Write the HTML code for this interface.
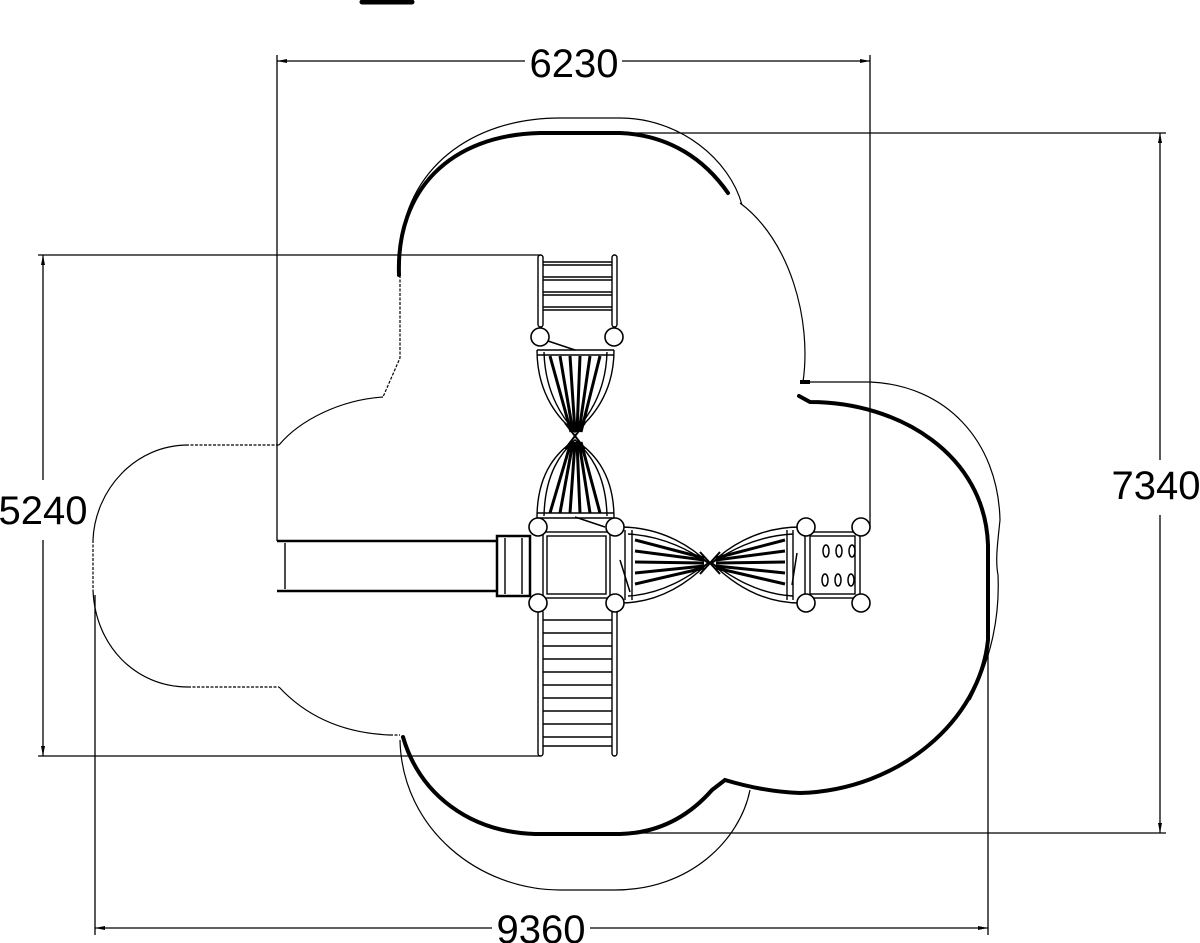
<!DOCTYPE html>
<html><head><meta charset="utf-8"><style>
html,body{margin:0;padding:0;background:#fff;}
svg{display:block}
text{font-family:"Liberation Sans",sans-serif;font-size:40px;fill:#000}
</style></head><body>
<svg width="1200" height="943" viewBox="0 0 1200 943" xmlns="http://www.w3.org/2000/svg">
<rect width="1200" height="943" fill="#fff"/>
<line x1="362" y1="2" x2="412" y2="2" stroke="#000" stroke-width="5" stroke-linecap="round"/>
<g stroke="#000" stroke-width="1.3" fill="none">
<line x1="277" y1="55" x2="277" y2="541"/>
<line x1="870" y1="55" x2="870" y2="527"/>
<line x1="277" y1="61" x2="525" y2="61"/>
<line x1="622" y1="61" x2="870" y2="61"/>
<line x1="38" y1="255" x2="540" y2="255"/>
<line x1="38" y1="756" x2="540" y2="756"/>
<line x1="43" y1="255" x2="43" y2="480"/>
<line x1="43" y1="540" x2="43" y2="756"/>
<line x1="625" y1="133" x2="1166" y2="133"/>
<line x1="625" y1="833" x2="1166" y2="833"/>
<line x1="1160" y1="133" x2="1160" y2="460"/>
<line x1="1160" y1="515" x2="1160" y2="833"/>
<line x1="95" y1="595" x2="95" y2="935"/>
<line x1="988" y1="640" x2="988" y2="935"/>
<line x1="95" y1="928" x2="492" y2="928"/>
<line x1="590" y1="928" x2="988" y2="928"/>
</g>
<g fill="#000">
<path d="M277,61 l10,-2 v4z"/><path d="M870,61 l-10,-2 v4z"/>
<path d="M43,255 l-2,10 h4z"/><path d="M43,756 l-2,-10 h4z"/>
<path d="M1160,133 l-2,10 h4z"/><path d="M1160,833 l-2,-10 h4z"/>
<path d="M95,928 l10,-2 v4z"/><path d="M988,928 l-10,-2 v4z"/>
</g>
<text x="574" y="77" text-anchor="middle">6230</text>
<text x="43" y="524" text-anchor="middle">5240</text>
<text x="1156" y="499" text-anchor="middle">7340</text>
<text x="541" y="943" text-anchor="middle">9360</text>

<g stroke="#000" stroke-width="1.2" fill="none">
<path d="M400,250 C405,170 470,118 560,118 L620,118 C680,118 730,160 742,205"/>
<path d="M740,203 C790,240 812,320 803,382"/>
<path d="M803,382 L870,382 C945,385 998,440 1000,520 C998,540 995,560 998,575 C1000,620 990,660 970,700"/>
<path d="M400,740 C402,830 480,890 560,890 L615,890 C690,890 740,840 750,790"/>
<path d="M383,397 C340,400 300,420 279,445 M188,445 C135,445 95,490 93,540 M93,590 C95,645 135,687 188,687 M279,687 C305,715 340,733 390,735"/>
<path d="M400,275 L400,358 L383,397 M279,445 L188,445 M93,540 L93,590 M188,687 L279,687 M390,735 L400,735" stroke-dasharray="3 1.5"/>
</g>
<g stroke="#000" stroke-width="4" fill="none" stroke-linecap="round">
<path d="M399,275 C396,190 450,135 540,133 L620,133 C670,135 705,160 728,193"/>
<path d="M799,396 L810,402 C900,402 985,455 988,545 L988,640 C980,720 900,790 800,793 C770,792 745,786 725,780 L712,790 C690,815 660,833 620,834 L535,834 C470,832 420,795 403,737"/>
</g>
<path d="M800,382 L810,382" stroke="#000" stroke-width="4"/>

<g stroke="#000" stroke-width="1.4" fill="none">
<line x1="277" y1="541" x2="497" y2="541" stroke-width="2.5"/>
<line x1="277" y1="591" x2="497" y2="591" stroke-width="2.5"/>
<line x1="285" y1="543" x2="285" y2="589"/>
<rect x="497" y="536" width="33" height="60" stroke-width="2.5"/>
<line x1="505" y1="538" x2="505" y2="594"/>
<line x1="522" y1="538" x2="522" y2="594"/>
<rect x="538" y="255" width="5" height="72" rx="2.5"/>
<rect x="612" y="255" width="5" height="72" rx="2.5"/>
<path d="M543,262h69M543,265h69M543,277h69M543,280h69M543,292h69M543,295h69M543,307h69M543,310h69"/>
<rect x="538" y="610" width="5" height="146" rx="2.5"/>
<rect x="612" y="610" width="5" height="146" rx="2.5"/>
<path d="M543,620h69M543,633h69M543,646h69M543,659h69M543,672h69M543,685h69M543,698h69M543,711h69M543,724h69M543,737h69M543,746h69"/>
<rect x="543" y="532" width="67" height="66"/>
<rect x="547" y="536" width="59" height="58"/>
<rect x="805" y="532" width="55" height="66"/>
<rect x="810" y="536" width="45" height="58"/>
<path d="M537,350 L614,350 M537,355 L614,355"/>
<path d="M537,350 C537,395 560,420 575,432 C590,420 614,395 614,350"/>
<path d="M544,352 C545,395 565,420 575,432 C585,420 606,395 607,352"/>
<path d="M537,518 C537,470 560,450 575,440 C590,450 614,470 614,518"/>
<path d="M544,516 C545,472 562,452 575,440 C588,452 606,472 607,516"/>
<path d="M537,518 L614,518 M537,513 L614,513"/>
<path d="M625,530 L625,600 M632,530 L632,600"/>
<path d="M620,527 C665,527 695,550 708,563 C695,576 665,603 620,603"/>
<path d="M628,534 C665,536 692,552 708,563 C692,574 665,594 628,596"/>
<path d="M800,527 C755,527 725,550 712,563 C725,576 755,603 800,603"/>
<path d="M793,534 C755,536 728,552 712,563 C728,574 755,594 793,596"/>
<path d="M793,530 L793,600 M787,530 L787,600"/>
</g>
<g stroke="#000" stroke-width="3" fill="none">
<path d="M550,356 L571,432 M560,356 L573,432 M570,356 L575,432 M580,356 L577,432 M590,356 L579,432 M600,356 L581,432"/>
<path d="M550,513 L571,442 M560,513 L573,442 M570,513 L575,442 M580,513 L577,442 M590,513 L579,442 M600,513 L581,442"/>
<path d="M565,423 L585,449 M585,423 L565,449" stroke-width="2"/>
<path d="M635,540 L704,558 M635,551 L704,560 M635,562 L704,563 M635,573 L704,566 M635,584 L704,568"/>
<path d="M785,540 L716,558 M785,551 L716,560 M785,562 L716,563 M785,573 L716,566 M785,584 L716,568"/>
<path d="M700,552 L720,574 M720,552 L700,574" stroke-width="2"/>
<path d="M545,340 L575,350 M575,517 L605,527 M630,592 L620,560 M797,553 L792,585" stroke-width="1.5"/>
</g>
<g stroke="#000" stroke-width="1.5" fill="none">
<ellipse cx="826" cy="551" rx="3" ry="6"/><ellipse cx="839" cy="551" rx="3" ry="6"/><ellipse cx="852" cy="551" rx="3" ry="6"/>
<ellipse cx="825" cy="580" rx="3" ry="6"/><ellipse cx="838" cy="580" rx="3" ry="6"/><ellipse cx="851" cy="580" rx="3" ry="6"/>
</g>
<g stroke="#000" stroke-width="1.6" fill="#fff">
<circle cx="540" cy="337" r="9"/><circle cx="614" cy="337" r="9"/>
<circle cx="538" cy="527" r="9"/><circle cx="615" cy="527" r="9"/>
<circle cx="538" cy="603" r="9"/><circle cx="615" cy="603" r="9"/>
<circle cx="806" cy="527" r="9"/><circle cx="861" cy="527" r="9"/>
<circle cx="806" cy="603" r="9"/><circle cx="861" cy="603" r="9"/>
</g>
</svg>
</body></html>
